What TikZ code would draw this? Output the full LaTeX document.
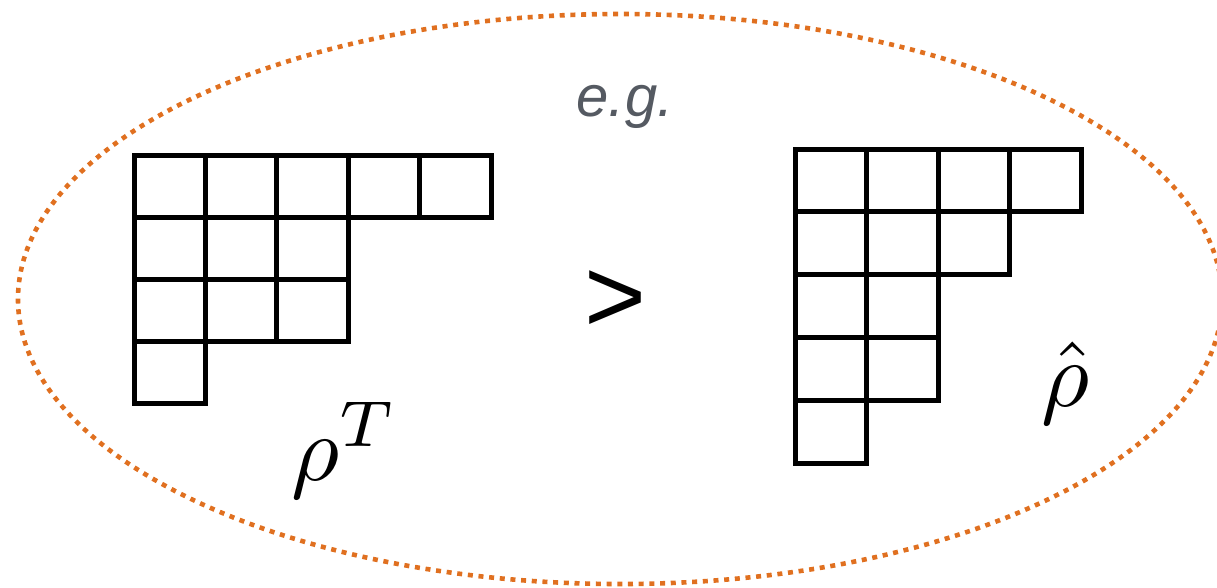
\documentclass[tikz,border=0pt]{standalone}
\usepackage{graphicx}
\usepackage{fontspec}
\setsansfont{Liberation Sans}
\definecolor{egorange}{HTML}{E07020}
\definecolor{eggray}{HTML}{555A62}
\tikzset{
  cellbox/.style={draw=black, line width=5pt},
  ring/.style={draw=egorange, line width=4.6pt, dash pattern=on 5pt off 5.7pt},
  lbl/.style={inner sep=0pt, outer sep=0pt},
}
\begin{document}
\begin{tikzpicture}[x=1pt,y=-1pt]
\useasboundingbox (0,0) rectangle (1217,587);
\begin{scope}
\clip (0,0) rectangle (1217,587);
\draw[ring] (620,299) ellipse [x radius=602, y radius=285];
\end{scope}
% left diagram (rows 5,3,3,1)
\def\lw{71.4}\def\lh{62}
\foreach \r/\n in {0/5,1/3,2/3,3/1}{
  \foreach \c in {1,...,\n}{
    \draw[cellbox] ({134+(\c-1)*\lw},{155+\r*\lh}) rectangle ++(\lw,\lh);
  }
}
% right diagram (rows 4,3,2,2,1)
\def\rw{71.5}\def\rh{62.8}
\foreach \r/\n in {0/4,1/3,2/2,3/2,4/1}{
  \foreach \c in {1,...,\n}{
    \draw[cellbox] ({795+(\c-1)*\rw},{149+\r*\rh}) rectangle ++(\rw,\rh);
  }
}
\node[lbl, anchor=base, text=eggray] (eg) at (625,116) {\fontsize{58}{62}\selectfont\sffamily\itshape e.g.};
\node[lbl, anchor=center] (gt) at (615,302) {\fontsize{106}{110}\selectfont\sffamily >};
\node[lbl, anchor=base west] (rhoT) at (291,480) {\scalebox{9.3}{$\rho^T$}};
\node[lbl, anchor=base west] (rhohat) at (1041,406) {\scalebox{9.3}{$\hat\rho$}};
\end{tikzpicture}
\end{document}
